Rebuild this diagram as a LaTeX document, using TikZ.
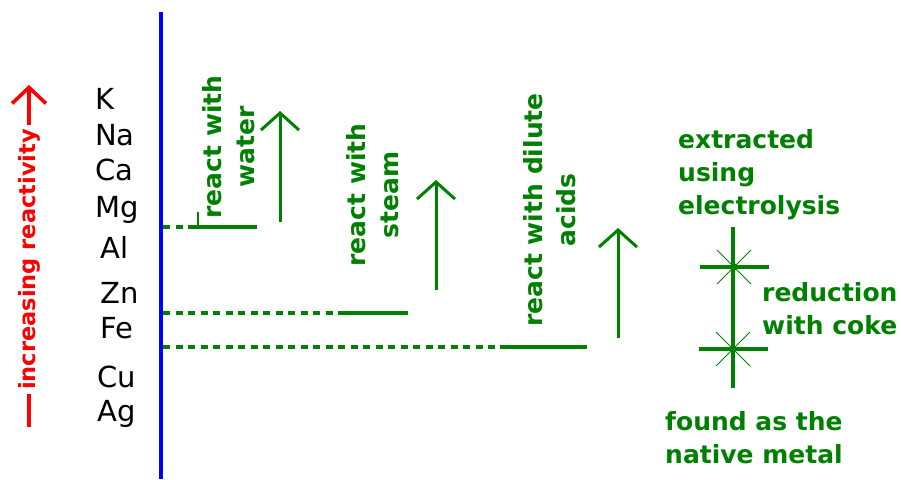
\documentclass[tikz,border=0pt]{standalone}
\usepackage{fontspec}
\setmainfont{DejaVu Sans}
\usetikzlibrary{arrows.meta,positioning}
\definecolor{axisblue}{RGB}{0,0,255}
\definecolor{leafgreen}{RGB}{0,128,0}
\definecolor{hotred}{RGB}{255,0,0}
\tikzset{
  metal/.style={anchor=base west,inner sep=0pt,
    font=\fontsize{29}{31}\selectfont},
  greentext/.style={text=leafgreen,inner sep=0pt,
    font=\bfseries\fontsize{25}{33}\selectfont},
  levelgap/.style={color=leafgreen,line width=3.4pt,
    dash pattern=on 7pt off 5.5pt},
  levelbar/.style={color=leafgreen,line width=3.4pt},
  uparrow/.style={color=leafgreen,line width=3pt,
    -{Straight Barb[length=17pt,width=38pt]}},
}
\begin{document}
\begin{tikzpicture}[x=1pt,y=-1pt]
\useasboundingbox (0,0) rectangle (901,479);
% blue axis
\coordinate (axtop) at (161,12);
\coordinate (axbot) at (161,479);
\draw[color=axisblue,line width=3.4pt](axtop)--(axbot);
% reactivity arrow
\coordinate (redbot) at (29,427);
\coordinate (redtop) at (29,85);
\draw[draw=hotred,line width=3.6pt,
      -{Straight Barb[length=16pt,width=34pt]}](redbot)--(redtop)
  node[pos=0.49,fill=white,rotate=90,inner sep=4pt,text=hotred,
       font=\bfseries\fontsize{22.5}{26}\selectfont](reactivity)
  {increasing reactivity};
% metals
\node[metal](k) at (95,109) {K};
\node[metal](na) at (95,145) {Na};
\node[metal](ca) at (95,180) {Ca};
\node[metal](mg) at (95,217) {Mg};
\node[metal](al) at (100,258) {Al};
\node[metal](zn) at (100,303) {Zn};
\node[metal](fe) at (100,338) {Fe};
\node[metal](cu) at (97,387) {Cu};
\node[metal](ag) at (97,421) {Ag};
% water
\coordinate (waterstart) at (163,227);
\coordinate (waterbar) at (195,227);
\coordinate (waterend) at (257,227);
\coordinate (watertick) at (198,212);
\draw[levelgap](waterstart)--(waterbar);
\draw[levelbar](waterbar)--(waterend);
\draw[levelbar,line width=2.5pt](watertick)--(198,227);
\node[greentext,rotate=90,align=center](water) at (229,147)
  {react with\\water};
\coordinate (waterlow) at (280,222);
\coordinate (waterhigh) at (280,111);
\draw[uparrow](waterlow)--(waterhigh);
% steam
\coordinate (steamstart) at (163,313);
\coordinate (steambar) at (341,313);
\coordinate (steamend) at (408,313);
\draw[levelgap](steamstart)--(steambar);
\draw[levelbar](steambar)--(steamend);
\node[greentext,rotate=90,align=center](steam) at (373,195)
  {react with\\steam};
\coordinate (steamlow) at (436,290);
\coordinate (steamhigh) at (436,180);
\draw[uparrow](steamlow)--(steamhigh);
% dilute acids
\coordinate (acidstart) at (163,347);
\coordinate (acidbar) at (500,347);
\coordinate (acidend) at (587,347);
\draw[levelgap](acidstart)--(acidbar);
\draw[levelbar](acidbar)--(acidend);
\node[greentext,rotate=90,align=center](acids) at (550,210)
  {react with dilute\\acids};
\coordinate (acidlow) at (618,338);
\coordinate (acidhigh) at (618,228);
\draw[uparrow](acidlow)--(acidhigh);
% extraction
\node[greentext,align=left,anchor=north west](electro) at (678,129)
  {extracted\\using\\electrolysis};
\coordinate (exttop) at (733,227);
\coordinate (extbot) at (733,388);
\draw[levelbar](exttop)--(extbot);
\coordinate (cokestar) at (734,267);
\coordinate (nativestar) at (733,349);
\foreach \s in {cokestar,nativestar}{
  \draw[levelbar]([xshift=-34pt]\s)--([xshift=35pt]\s);
  \draw[color=leafgreen,line width=1pt]
    ([shift={(-17pt,-17pt)}]\s)--([shift={(17pt,17pt)}]\s);
  \draw[color=leafgreen,line width=1pt]
    ([shift={(-17pt,17pt)}]\s)--([shift={(17pt,-17pt)}]\s);
  \fill[color=leafgreen](\s) circle (3.5pt);
}
\node[greentext,align=left,anchor=north west](coke) at (762,282)
  {reduction\\with coke};
\node[greentext,align=left,anchor=north west](native) at (665,411)
  {found as the\\native metal};
\end{tikzpicture}
\end{document}
